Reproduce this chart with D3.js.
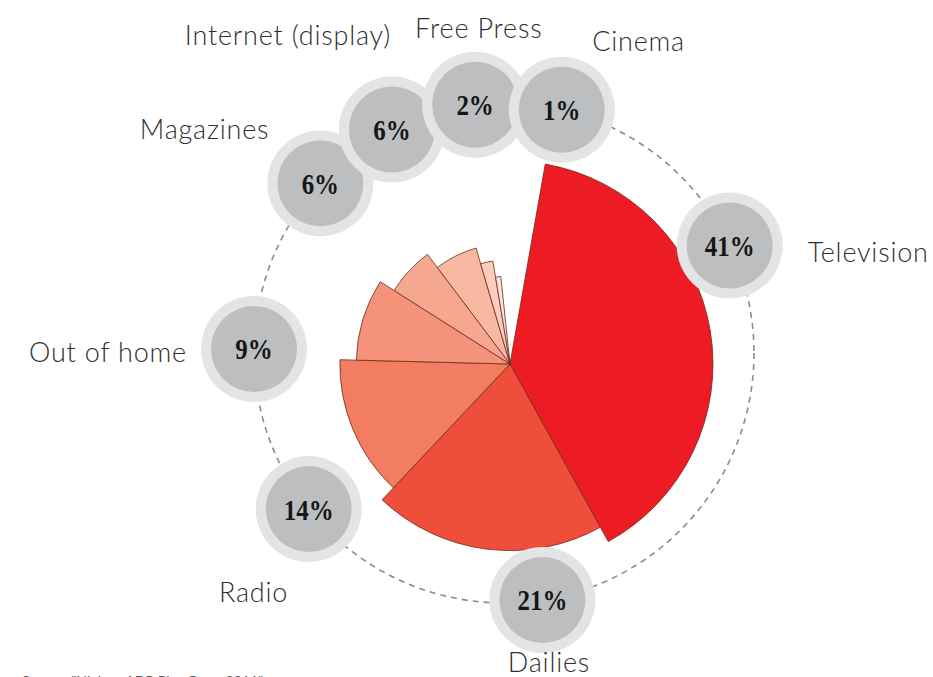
<!DOCTYPE html>
<html>
<head>
<meta charset="utf-8">
<script src="https://cdn.jsdelivr.net/npm/d3@7"></script>
<style>
  body { margin: 0; background: #fff; }
  svg { display: block; }
</style>
</head>
<body>
<svg id="chart" width="933" height="677"></svg>
<script>
// advertising spend share by medium
const categories = ["Television", "Dailies", "Radio", "Out of home", "Magazines", "Internet (display)", "Free Press", "Cinema"];
const shares = [41, 21, 14, 9, 6, 6, 2, 1];
const sourceNote = "Source: \"Nielsen ADR Plus Gross 2011\"";

const palette = ["#ed1c24", "#ef4e3b", "#f37d60", "#f4937a", "#f6a78f", "#f8b8a3", "#fbcdbb", "#fde3d8"];

const width = 933, height = 677;
const deg = Math.PI / 180;
const cx = 504, cy = 353, ringR = 250;   // dashed ring
const pieX = 510, pieY = 364;           // pie apex
const badgeOuter = 53, badgeInner = 43;

const svg = d3.select("#chart");

const data = categories.map((c, i) => ({ name: c, value: shares[i] }));

const pie = d3.pie()
    .sort(null)
    .value(d => d.value)
    .startAngle(10 * deg)
    .endAngle((10 + 344) * deg);
const arcs = pie(data);

const rScale = d3.scaleLinear().domain([0, data.length - 1]).range([203, 88]);
const color = d3.scaleOrdinal().domain(categories).range(palette);
const arc = d3.arc().innerRadius(0).outerRadius(d => rScale(d.index));

// dashed ring
svg.append("circle")
    .attr("cx", cx).attr("cy", cy).attr("r", ringR)
    .attr("fill", "none")
    .attr("stroke", "#8c8c8c")
    .attr("stroke-width", 1.6)
    .attr("stroke-dasharray", "6,5");

// wedges
svg.append("g")
    .attr("transform", `translate(${pieX},${pieY})`)
    .selectAll("path")
    .data(arcs)
    .join("path")
    .attr("d", arc)
    .attr("fill", d => color(d.data.name))
    .attr("stroke", "#6e2a1c")
    .attr("stroke-width", 0.8)
    .attr("stroke-linejoin", "round");

// badge angle: big wedges pulled back a bit, small ones spread apart
const minSep = 20 * deg;
let prev = -Infinity;
arcs.forEach(a => {
    const mid = (a.startAngle + a.endAngle) / 2;
    let t = a.data.value >= 9 ? mid - 16 * deg : mid;
    t = Math.max(t, prev + minSep);
    prev = t;
    a.badgeAngle = t;
    a.bx = cx + ringR * Math.sin(t);
    a.by = cy - ringR * Math.cos(t);
});

const badge = svg.append("g")
    .selectAll("g")
    .data(arcs)
    .join("g")
    .attr("transform", d => `translate(${d.bx},${d.by})`);

badge.append("circle").attr("r", badgeOuter).attr("fill", "#e3e4e5");
badge.append("circle").attr("r", badgeInner).attr("fill", "#bdbec0");
badge.append("text")
    .text(d => d.data.value + "%")
    .attr("text-anchor", "middle")
    .attr("dy", "0.36em")
    .attr("transform", "scale(0.86,1)")
    .attr("font-family", "'Liberation Serif', 'DejaVu Serif', serif")
    .attr("font-weight", "bold")
    .attr("font-size", 29)
    .attr("fill", "#161616");

// category labels, set radially outside each badge
const labels = svg.append("g")
    .selectAll("text")
    .data(arcs)
    .join("text")
    .text(d => d.data.name)
    .attr("text-anchor", "middle")
    .attr("dy", "0.35em")
    .attr("font-family", "Lato, 'Open Sans', sans-serif")
    .attr("font-weight", 300)
    .attr("font-size", 27)
    .attr("letter-spacing", 0.8)
    .attr("fill", "#2f2f2f");

const R0 = ringR + badgeOuter + 4, hh = 11;
labels.each(function(d) {
    const hw = this.getComputedTextLength() / 2;
    let phi = d.badgeAngle;
    const sinP = Math.sin(phi), cosP = Math.cos(phi);
    if (cosP > 0) {
        // upper half: lean a little toward the horizontal
        const right = sinP > 0;
        const dist = Math.abs(Math.abs(Math.asin(sinP)) - Math.PI / 2);
        if (dist < 80 * deg) {
            const lean = Math.min((right ? 10 : 6) * deg, dist);
            phi += right ? lean : -lean;
        }
    } else {
        // lower half: lean slightly toward the vertical
        const dist = Math.abs(Math.asin(sinP));
        phi += (sinP > 0 ? 1 : -1) * 0.1 * dist;
    }
    const sx = Math.sin(phi), sy = -Math.cos(phi);
    const r = R0 + (hw + 10) * Math.abs(sx) + hh * Math.abs(sy);
    d.hw = hw;
    d.lx = cx + r * sx;
    d.ly = Math.min(cy + r * sy, height - 14);
});

// push apart labels whose boxes collide
for (let k = 0; k < 30; k++) {
    arcs.forEach((a, i) => {
        arcs.forEach((b, j) => {
            if (j <= i) return;
            if (Math.abs(a.ly - b.ly) > 2 * hh + 6) return;
            const need = a.hw + b.hw + 24;
            const dx = b.lx - a.lx;
            if (Math.abs(dx) < need) {
                const push = (need - Math.abs(dx)) / 2 * Math.sign(dx || 1);
                a.lx -= push;
                b.lx += push;
            }
        });
    });
}

labels.attr("x", d => d.lx).attr("y", d => d.ly);

// source line (runs off the bottom edge, as in the original)
svg.append("text")
    .attr("x", 22)
    .attr("y", 686)
    .text(sourceNote)
    .attr("font-family", "Lato, sans-serif")
    .attr("font-size", 14)
    .attr("fill", "#555");
</script>
</body>
</html>
